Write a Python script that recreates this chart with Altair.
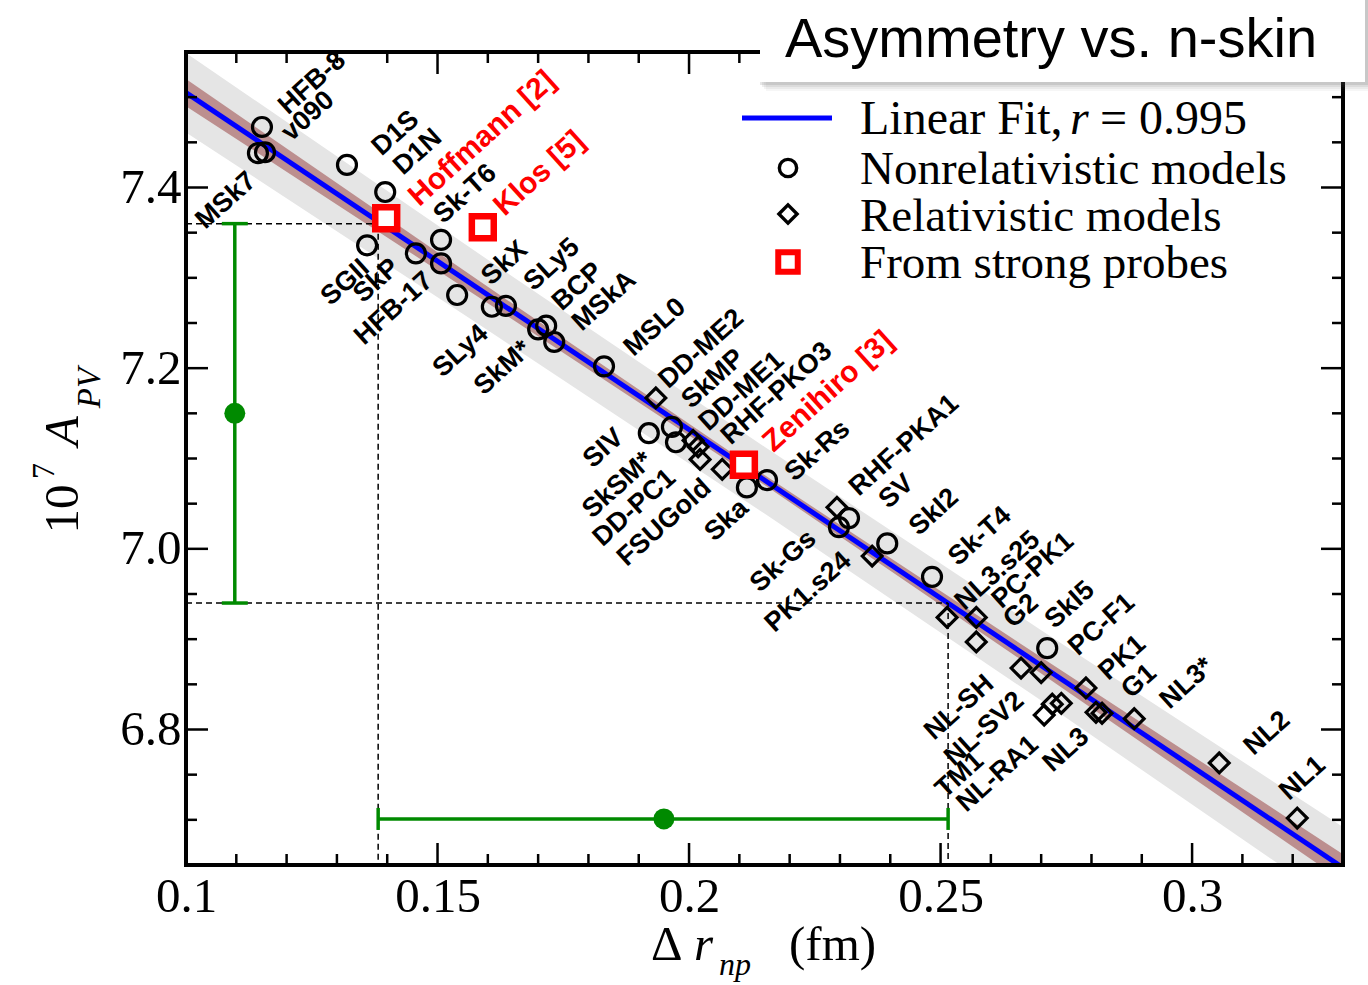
import math
import altair as alt
import pandas as pd

# ---------------- values ----------------
nonrel_names = ["HFB-8", "MSk7", "v090", "D1S", "D1N", "SGII", "SkP", "Sk-T6", "HFB-17", "SkX",
                "SLy4", "SLy5", "SkM*", "BCP", "MSkA", "MSL0", "SIV", "SkMP", "SkSM*", "Ska",
                "Sk-Rs", "Sk-Gs", "SV", "SkI2", "Sk-T4", "SkI5"]
nonrel_x = [0.1151, 0.1143, 0.1157, 0.1320, 0.1396, 0.1360, 0.1457, 0.1507, 0.1507, 0.1539,
            0.1608, 0.1636, 0.1700, 0.1716, 0.1732, 0.1831, 0.1920, 0.1966, 0.1974, 0.2115,
            0.2155, 0.2298, 0.2318, 0.2394, 0.2483, 0.2712]
nonrel_y = [7.467, 7.438, 7.439, 7.425, 7.395, 7.336, 7.327, 7.342, 7.316, 7.281,
            7.268, 7.269, 7.243, 7.247, 7.229, 7.202, 7.128, 7.135, 7.118, 7.068,
            7.076, 7.024, 7.034, 7.006, 6.969, 6.890]
nonrel_side = ["ur", "ll", "ur", "ur", "ur", "ll", "ll", "ur", "ll", "ur",
               "ll", "ur", "ll", "ur", "ur", "ur", "ll", "ur", "ll", "ll",
               "ur", "ll", "ur", "ur", "ur", "ur"]

rel_names = ["DD-ME2", "DD-ME1", "RHF-PKO3", "DD-PC1", "FSUGold", "RHF-PKA1", "PK1.s24",
             "NL3.s25", "PC-PK1", "G2", "NL-SH", "PC-F1", "NL-SV2", "NL-RA1", "TM1", "PK1",
             "NL3", "G1", "NL3*", "NL2", "NL1"]
rel_x = [0.1934, 0.2008, 0.2018, 0.2022, 0.2066, 0.2294, 0.2364,
         0.2513, 0.2571, 0.2571, 0.2660, 0.2700, 0.2722, 0.2740, 0.2706, 0.2789,
         0.2809, 0.2821, 0.2885, 0.3054, 0.3209]
rel_y = [7.167, 7.120, 7.113, 7.099, 7.088, 7.046, 6.992,
         6.924, 6.924, 6.897, 6.868, 6.863, 6.828, 6.829, 6.816, 6.846,
         6.819, 6.818, 6.812, 6.763, 6.702]
rel_side = ["ur", "ur", "ur", "ll", "ll", "ur", "ll",
            "ur", "ur", "ur", "ll", "ur", "ll", "ll", "ll", "ur",
            "ll", "ur", "ur", "ur", "ur"]

probe_names = ["Hoffmann [2]", "Klos [5]", "Zenihiro [3]"]
probe_x = [0.1398, 0.1590, 0.2109]
probe_y = [7.366, 7.356, 7.093]

fit_x = [0.10, 0.33]
fit_y = [7.505, 6.647]

band_x = [0.10, 0.16, 0.215, 0.27, 0.33]
pred_lo = [7.461, 7.242, 7.039, 6.832, 6.602]
pred_hi = [7.549, 7.320, 7.113, 6.910, 6.692]
conf_lo = [7.490, 7.272, 7.0706, 6.862, 6.632]
conf_hi = [7.520, 7.290, 7.0816, 6.880, 6.662]

# green measurement with error bars
rnp_val, rnp_lo, rnp_hi, rnp_at_y = 0.195, 0.1382, 0.2515, 6.701
apv_val, apv_lo, apv_hi, apv_at_x = 7.150, 6.940, 7.360, 0.1097

x_major = [0.1, 0.15, 0.2, 0.25, 0.3]
x_minor = [0.11, 0.12, 0.13, 0.14, 0.16, 0.17, 0.18, 0.19, 0.21, 0.22, 0.23, 0.24,
           0.26, 0.27, 0.28, 0.29, 0.31, 0.32]
y_major = [6.8, 7.0, 7.2, 7.4]
y_minor = [6.7, 6.75, 6.85, 6.9, 6.95, 7.05, 7.1, 7.15, 7.25, 7.3, 7.35, 7.45, 7.5]

X_DOMAIN = [0.1, 0.33]
Y_DOMAIN = [6.65, 7.55]

# ---------------- layout / style ----------------
W, H = 1157, 813
SERIF = "Liberation Serif"
SANS = "Liberation Sans"
GREEN = "#008a00"
LABEL_ANGLE = 42  # degrees, text rising to the right

# label placement: (pixels along the text direction, pixels perpendicular, + = down-right)
DEFAULT_OFFSET = {"ur": (22, 4), "ll": (-20, 0)}
LABEL_OFFSET = {
    "HFB-8": (27, 1), "MSk7": (-20, 14), "v090": (26, 2), "D1S": (31, 9), "D1N": (24, -8),
    "SGII": (-14, 13), "SkP": (-22, -6), "Sk-T6": (12, -18), "HFB-17": (-18, 2), "SkX": (31, 8),
    "SLy4": (-21, 12), "SLy5": (30, 0), "SkM*": (-19, 5), "BCP": (21, -8), "MSkA": (27, 3),
    "MSL0": (28, 5), "SIV": (-22, -19), "SkMP": (26, -8), "SkSM*": (-30, -7), "Ska": (-13, 11),
    "Sk-Rs": (19, 12), "Sk-Gs": (-25, -12), "SV": (35, 12), "SkI2": (28, 8), "Sk-T4": (26, 2),
    "SkI5": (18, -17),
    "DD-ME2": (15, -6), "DD-ME1": (17, -4), "RHF-PKO3": (25, 13), "DD-PC1": (-31, -8),
    "FSUGold": (-21, 1), "RHF-PKA1": (23, -1), "PK1.s24": (-19, -16), "NL3.s25": (17, -1),
    "PC-PK1": (24, 3), "G2": (36, 7), "NL-SH": (-31, -12), "PC-F1": (38, 5), "NL-SV2": (-19, -27),
    "NL-RA1": (-45, 10), "TM1": (-76, -12), "PK1": (21, 2), "NL3": (-22, 8), "G1": (31, 1),
    "NL3*": (32, 9), "NL2": (30, 10), "NL1": (5, -26),
    "Hoffmann [2]": (32, 5), "Klos [5]": (23, -2), "Zenihiro [3]": (30, 2),
}

x_per_px = (X_DOMAIN[1] - X_DOMAIN[0]) / W
y_per_px = (Y_DOMAIN[1] - Y_DOMAIN[0]) / H
ca, sa = math.cos(math.radians(LABEL_ANGLE)), math.sin(math.radians(LABEL_ANGLE))


def label_frame(names, xv, yv, sides, kind):
    rows = []
    for n, x, y, s in zip(names, xv, yv, sides):
        a, p = LABEL_OFFSET.get(n, DEFAULT_OFFSET[s])
        sx = a * ca + p * sa          # screen offset, x to the right
        sy = -a * sa + p * ca         # screen offset, y downward
        rows.append({"name": n, "side": s, "kind": kind,
                     "lx": x + sx * x_per_px, "ly": y - sy * y_per_px})
    return pd.DataFrame(rows)


xs = alt.Scale(domain=X_DOMAIN, nice=False, zero=False)
ys = alt.Scale(domain=Y_DOMAIN, nice=False, zero=False)
x_axis = alt.Axis(values=x_major, format=".2~f", labelFont=SERIF, labelFontSize=49,
                  labelColor="black", labelPadding=7, ticks=False, domain=False,
                  grid=False, title="", labelFlush=False, labelOverlap=False)
y_axis = alt.Axis(values=y_major, format=".1f", labelFont=SERIF, labelFontSize=49,
                  labelColor="black", labelPadding=5, ticks=False, domain=False,
                  grid=False, title="", labelFlush=False, labelOverlap=False)


def X(f):
    return alt.X(f, type="quantitative", scale=xs, axis=x_axis)


def Y(f):
    return alt.Y(f, type="quantitative", scale=ys, axis=y_axis)


one = pd.DataFrame({"a": [0]})

band_df = pd.DataFrame({"x": band_x, "plo": pred_lo, "phi": pred_hi, "clo": conf_lo, "chi": conf_hi})
fit_df = pd.DataFrame({"x": fit_x, "y": fit_y})
nonrel_df = pd.DataFrame({"x": nonrel_x, "y": nonrel_y})
rel_df = pd.DataFrame({"x": rel_x, "y": rel_y})
probe_df = pd.DataFrame({"x": probe_x, "y": probe_y})
labels_df = pd.concat([
    label_frame(nonrel_names, nonrel_x, nonrel_y, nonrel_side, "model"),
    label_frame(rel_names, rel_x, rel_y, rel_side, "model"),
    label_frame(probe_names, probe_x, probe_y, ["ur"] * len(probe_names), "probe"),
], ignore_index=True)

x0, y0 = X_DOMAIN[0], Y_DOMAIN[0]
dash_df = pd.DataFrame({
    "x1": [x0, rnp_lo, x0, rnp_hi],
    "x2": [rnp_lo, rnp_lo, rnp_hi, rnp_hi],
    "y1": [apv_hi, apv_hi, apv_lo, apv_lo],
    "y2": [apv_hi, y0, apv_lo, y0],
})
herr_df = pd.DataFrame({"x": [rnp_val], "lo": [rnp_lo], "hi": [rnp_hi], "y": [rnp_at_y]})
hcap_df = pd.DataFrame({"x": [rnp_lo, rnp_hi], "y": [rnp_at_y, rnp_at_y]})
verr_df = pd.DataFrame({"x": [apv_at_x], "y": [apv_val], "lo": [apv_lo], "hi": [apv_hi]})
vcap_df = pd.DataFrame({"x": [apv_at_x, apv_at_x], "y": [apv_lo, apv_hi]})

layers = []

# bands and fit
layers.append(alt.Chart(band_df).mark_area(color="#e5e5e5", clip=True).encode(x=X("x"), y=Y("plo"), y2="phi"))
layers.append(alt.Chart(band_df).mark_area(color="#bc8f8f", clip=True).encode(x=X("x"), y=Y("clo"), y2="chi"))
layers.append(alt.Chart(fit_df).mark_line(color="#0000ff", strokeWidth=5, clip=True).encode(x=X("x"), y=Y("y")))

# dashed guides
layers.append(alt.Chart(dash_df).mark_rule(color="black", strokeWidth=1.5, strokeDash=[6, 4]).encode(
    x=X("x1"), x2="x2", y=Y("y1"), y2="y2"))

# green error bars
layers.append(alt.Chart(herr_df).mark_rule(color=GREEN, strokeWidth=3.5).encode(x=X("lo"), x2="hi", y=Y("y")))
layers.append(alt.Chart(hcap_df).mark_tick(color=GREEN, orient="vertical", size=22, thickness=3.5, opacity=1).encode(x=X("x"), y=Y("y")))
layers.append(alt.Chart(herr_df).mark_point(shape="circle", filled=True, color=GREEN, size=440, opacity=1).encode(x=X("x"), y=Y("y")))
layers.append(alt.Chart(verr_df).mark_rule(color=GREEN, strokeWidth=3.5).encode(x=X("x"), y=Y("lo"), y2="hi"))
layers.append(alt.Chart(vcap_df).mark_tick(color=GREEN, orient="horizontal", size=26, thickness=3.5, opacity=1).encode(x=X("x"), y=Y("y")))
layers.append(alt.Chart(verr_df).mark_point(shape="circle", filled=True, color=GREEN, size=440, opacity=1).encode(x=X("x"), y=Y("y")))

# model points
layers.append(alt.Chart(nonrel_df).mark_point(shape="circle", filled=False, color="black", size=360, strokeWidth=3.2, opacity=1).encode(x=X("x"), y=Y("y")))
layers.append(alt.Chart(rel_df).mark_point(shape="diamond", filled=False, color="black", size=390, strokeWidth=3.2, opacity=1).encode(x=X("x"), y=Y("y")))
layers.append(alt.Chart(probe_df).mark_point(shape="square", fill="white", stroke="red", fillOpacity=1, strokeWidth=6.5, size=480, opacity=1).encode(x=X("x"), y=Y("y")))

# labels
lab = alt.Chart(labels_df)
text_common = dict(baseline="middle", angle=360 - LABEL_ANGLE, font=SANS, fontWeight="bold")
layers.append(lab.transform_filter("datum.side == 'ur' && datum.kind == 'model'").mark_text(
    align="left", fontSize=27, color="black", **text_common
).encode(x=X("lx"), y=Y("ly"), text="name:N"))
layers.append(lab.transform_filter("datum.side == 'll' && datum.kind == 'model'").mark_text(
    align="right", fontSize=27, color="black", **text_common
).encode(x=X("lx"), y=Y("ly"), text="name:N"))
layers.append(lab.transform_filter("datum.kind == 'probe'").mark_text(
    align="left", fontSize=30, color="red", **text_common
).encode(x=X("lx"), y=Y("ly"), text="name:N"))

# frame
layers.append(alt.Chart(one).mark_rect(fillOpacity=0, stroke="black", strokeWidth=4).encode(
    x=alt.value(0), x2=alt.value(W), y=alt.value(0), y2=alt.value(H)))

# inward ticks
MAJ, MIN = 22, 11
xmaj_df = pd.DataFrame({"v": x_major})
xmin_df = pd.DataFrame({"v": x_minor})
ymaj_df = pd.DataFrame({"v": y_major})
ymin_df = pd.DataFrame({"v": y_minor})
for df, L in [(xmaj_df, MAJ), (xmin_df, MIN)]:
    layers.append(alt.Chart(df).mark_rule(color="black", strokeWidth=2.5).encode(x=X("v"), y=alt.value(H), y2=alt.value(H - L)))
    layers.append(alt.Chart(df).mark_rule(color="black", strokeWidth=2.5).encode(x=X("v"), y=alt.value(0), y2=alt.value(L)))
for df, L in [(ymaj_df, MAJ), (ymin_df, MIN)]:
    layers.append(alt.Chart(df).mark_rule(color="black", strokeWidth=2.5).encode(y=Y("v"), x=alt.value(0), x2=alt.value(L)))
    layers.append(alt.Chart(df).mark_rule(color="black", strokeWidth=2.5).encode(y=Y("v"), x=alt.value(W), x2=alt.value(W - L)))


def txt(text, x, y, size, font=SERIF, style="normal", angle=0, align="left", baseline="alphabetic", color="black", weight="normal"):
    kw = dict(text=text, align=align, baseline=baseline, font=font, fontSize=size, fontStyle=style,
              color=color, fontWeight=weight)
    if angle:
        kw["angle"] = angle
    return alt.Chart(one).mark_text(**kw).encode(x=alt.value(x), y=alt.value(y))


# axis titles
layers.append(txt("\u0394", 465, 908, 49))
layers.append(txt("r", 508, 908, 49, style="italic"))
layers.append(txt("np", 533, 923, 32, style="italic"))
layers.append(txt("(fm)", 603, 908, 49))
layers.append(txt("10", -108, 457, 49, angle=270, align="center"))
layers.append(txt("7", -132, 419, 32, angle=270, align="center"))
layers.append(txt("A", -108, 379, 49, style="italic", angle=270, align="center"))
layers.append(txt("PV", -86, 336, 33, style="italic", angle=270, align="center"))

# title box with shadow
for off, op in [(9, 0.05), (7, 0.07), (5, 0.10), (3, 0.14)]:
    layers.append(alt.Chart(one).mark_rect(color="#555555", opacity=op).encode(
        x=alt.value(574 + off - 3), x2=alt.value(1179 + off), y=alt.value(-52), y2=alt.value(30 + off)))
layers.append(alt.Chart(one).mark_rect(color="white", opacity=1).encode(
    x=alt.value(574), x2=alt.value(1179), y=alt.value(-52), y2=alt.value(30)))
layers.append(txt("Asymmetry vs. n-skin", 599, 5, 56, font=SANS))

# legend
layers.append(alt.Chart(one).mark_rule(color="#0000ff", strokeWidth=5).encode(
    x=alt.value(556), x2=alt.value(646), y=alt.value(66)))
layers.append(alt.Chart(one).mark_point(shape="circle", filled=False, color="black", size=300, strokeWidth=3.4, opacity=1).encode(
    x=alt.value(602), y=alt.value(116)))
layers.append(alt.Chart(one).mark_point(shape="diamond", filled=False, color="black", size=330, strokeWidth=3.4, opacity=1).encode(
    x=alt.value(602), y=alt.value(162)))
layers.append(alt.Chart(one).mark_point(shape="square", fill="white", stroke="red", fillOpacity=1, strokeWidth=6, size=380, opacity=1).encode(
    x=alt.value(602), y=alt.value(210)))
layers.append(txt("Linear Fit,", 674, 82, 48))
layers.append(txt("r", 884, 82, 48, style="italic"))
layers.append(txt("= 0.995", 914, 82, 48))
layers.append(txt("Nonrelativistic models", 674, 132, 47))
layers.append(txt("Relativistic models", 674, 179, 47))
layers.append(txt("From strong probes", 674, 226, 47))

chart = alt.layer(*layers).properties(
    width=W, height=H,
    autosize=alt.AutoSizeParams(type="none"),
    padding={"left": 186, "top": 52, "right": 25, "bottom": 120},
    background="white",
).configure_view(strokeWidth=0)

chart.save("out.html", embed_options={"renderer": "svg", "actions": False})
